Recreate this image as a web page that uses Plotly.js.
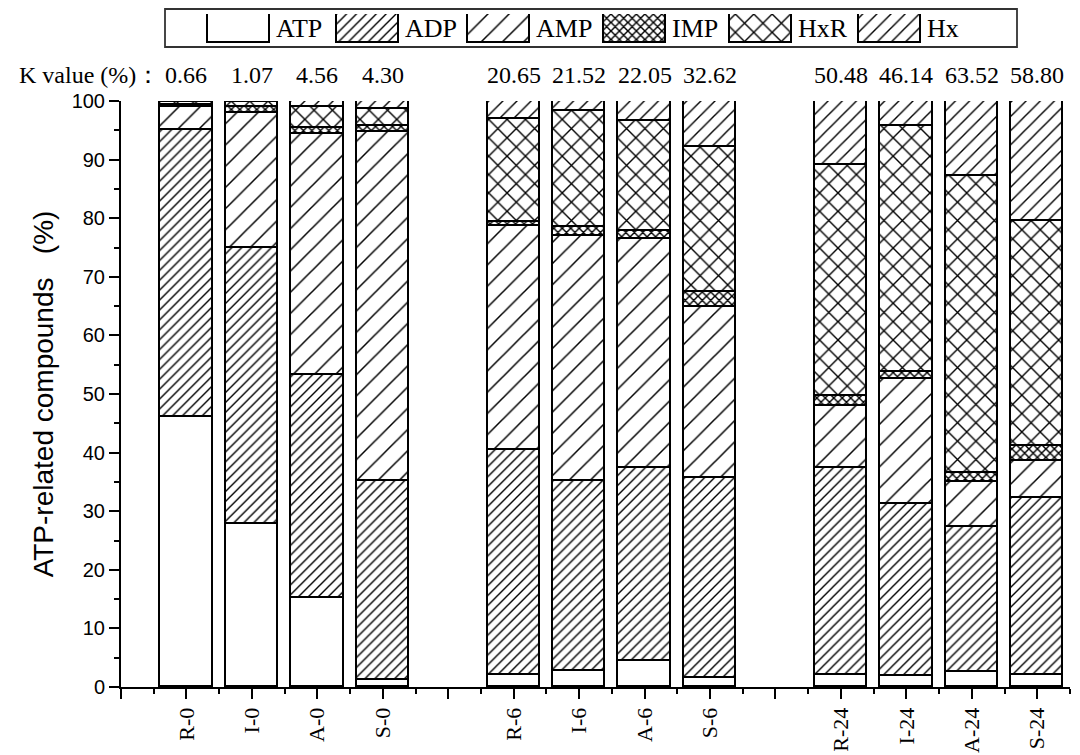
<!DOCTYPE html>
<html>
<head>
<meta charset="utf-8">
<script src="https://cdn.plot.ly/plotly-3.0.1.min.js"></script>
<style>html,body{margin:0;padding:0;background:#fff;}#chart{width:1080px;height:755px;}</style>
</head>
<body>
<div id="chart"></div>
<script>
// ---- data ----
const categories = ['R-0','I-0','A-0','S-0','R-6','I-6','A-6','S-6','R-24','I-24','A-24','S-24'];
const ATP = [46.0, 27.9, 15.2, 1.2, 2.1, 2.7, 4.4, 1.5, 2.1, 1.8, 2.5, 2.1];
const ADP = [49.0, 47.1, 38.1, 34.0, 38.4, 32.5, 33.0, 34.2, 35.2, 29.5, 24.8, 30.2];
const AMP = [4.0, 22.9, 41.1, 59.5, 38.2, 41.8, 39.1, 29.1, 10.7, 21.2, 7.6, 6.3];
const IMP = [0.34, 1.0, 1.0, 1.0, 0.7, 1.5, 1.4, 2.6, 1.6, 1.3, 1.7, 2.5];
const HxR = [0.46, 0.9, 3.5, 3.0, 17.6, 19.8, 18.7, 24.7, 39.5, 41.9, 50.6, 38.4];
const Hx  = [0.2, 0.2, 1.1, 1.3, 3.0, 1.7, 3.4, 7.9, 10.9, 4.3, 12.8, 20.5];
const kValues = ['0.66','1.07','4.56','4.30','20.65','21.52','22.05','32.62','50.48','46.14','63.52','58.80'];
const seriesNames = ['ATP','ADP','AMP','IMP','HxR','Hx'];
const seriesData = [ATP, ADP, AMP, IMP, HxR, Hx];

// ---- layout helpers ----
const W = 1080, H = 755, B = 68;
const PH = H - B; // plot height with t=0
const px = x => x / W;
const py = y => (PH - y) / PH;

// group positions: 4 bars per group, one empty slot between groups
const xpos = categories.map((c, i) => i + 1 + Math.floor(i / 4));

const patterns = {
  ATP: {shape: ''},
  ADP: {shape: '/', size: 7, solidity: 0.2},
  AMP: {shape: '/', size: 15, solidity: 0.1},
  IMP: {shape: 'x', size: 6, solidity: 0.42},
  HxR: {shape: 'x', size: 13, solidity: 0.2},
  Hx:  {shape: '/', size: 10, solidity: 0.14}
};
function markerFor(name) {
  const p = patterns[name];
  const m = {color: '#ffffff', line: {color: '#000', width: 1.6}};
  if (p.shape) {
    m.pattern = {shape: p.shape, size: p.size, solidity: p.solidity, fgcolor: '#000', bgcolor: '#ffffff', fillmode: 'replace'};
  }
  return m;
}

const traces = seriesNames.map((name, s) => ({
  type: 'bar',
  name: name,
  x: xpos,
  y: seriesData[s],
  width: 0.8,
  marker: markerFor(name),
  showlegend: false,
  customdata: categories,
  textposition: 'none',
  hovertemplate: '%{customdata}: %{y}<extra>' + name + '</extra>'
}));

// custom legend swatches (wide rectangles like the original)
const swatchLeft = [208, 337, 468, 604, 730, 859];
const swatchW = 62;
seriesNames.forEach((name, s) => {
  traces.push({
    type: 'bar',
    x: [swatchLeft[s] + swatchW / 2],
    y: [1],
    width: swatchW,
    xaxis: 'x2', yaxis: 'y2',
    marker: markerFor(name),
    showlegend: false,
    textposition: 'none',
    hoverinfo: 'skip'
  });
});

const serif = '"Liberation Serif", "Times New Roman", serif';
const sans = '"Liberation Sans", Arial, sans-serif';

const annotations = [];
annotations.push({
  xref: 'paper', yref: 'paper', x: px(162), y: py(75), xanchor: 'right', yanchor: 'middle',
  text: 'K value (%)：', showarrow: false, font: {family: serif, size: 24, color: '#000'}
});
kValues.forEach((k, i) => {
  annotations.push({
    xref: 'x', yref: 'paper', x: xpos[i], y: py(75), xanchor: 'center', yanchor: 'middle',
    text: k, showarrow: false, font: {family: serif, size: 24, color: '#000'}
  });
});
seriesNames.forEach((name, s) => {
  annotations.push({
    xref: 'paper', yref: 'paper', x: px(swatchLeft[s] + swatchW + 4), y: py(29), xanchor: 'left', yanchor: 'middle',
    text: name, showarrow: false, font: {family: serif, size: 26, color: '#000'}
  });
});

const majorX = [];
const majorXText = [];
for (let v = 0; v <= 14; v++) {
  majorX.push(v);
  const idx = xpos.indexOf(v);
  majorXText.push(idx >= 0 ? categories[idx] : '');
}
const minorX = [];
for (let v = 0.5; v <= 14.5; v += 1) minorX.push(v);

const layout = {
  width: W, height: H,
  margin: {l: 0, r: 0, t: 0, b: B, pad: 0},
  paper_bgcolor: '#fff', plot_bgcolor: 'rgba(0,0,0,0)',
  barmode: 'stack',
  showlegend: false,
  xaxis: {
    domain: [px(121), px(1070)],
    range: [0, 14.5],
    tickmode: 'array', tickvals: majorX, ticktext: majorXText,
    tickangle: -90,
    ticks: 'outside', ticklen: 10, tickwidth: 1.8, tickcolor: '#000',
    minor: {tickmode: 'array', tickvals: minorX, ticks: 'outside', ticklen: 5, tickwidth: 1.8, tickcolor: '#000'},
    showline: true, linecolor: '#000', linewidth: 2,
    showgrid: false, zeroline: false,
    tickfont: {family: serif, size: 22, color: '#000'},
    anchor: 'y', fixedrange: true
  },
  yaxis: {
    domain: [0, py(101)],
    range: [0, 100],
    tickmode: 'linear', tick0: 0, dtick: 10,
    ticks: 'outside', ticklen: 10, tickwidth: 1.8, tickcolor: '#000',
    minor: {dtick: 5, ticks: 'outside', ticklen: 5, tickwidth: 1.8, tickcolor: '#000'},
    showline: true, linecolor: '#000', linewidth: 2,
    showgrid: false, zeroline: false,
    tickfont: {family: sans, size: 20, color: '#000'},
    title: {text: 'ATP-related compounds &nbsp;&nbsp;(%)', font: {family: sans, size: 28, color: '#000'}, standoff: 10},
    anchor: 'x', fixedrange: true
  },
  xaxis2: {domain: [0, 1], range: [0, W], visible: false, anchor: 'y2', fixedrange: true},
  yaxis2: {domain: [py(43), py(14)], range: [0, 1], visible: false, anchor: 'x2', fixedrange: true},
  shapes: [{
    type: 'rect', xref: 'paper', yref: 'paper',
    x0: px(165), x1: px(1017), y0: py(47), y1: py(9),
    line: {color: '#333', width: 1.8}, fillcolor: 'rgba(0,0,0,0)'
  }],
  annotations: annotations,
  bargap: 0
};

Plotly.newPlot('chart', traces, layout, {displayModeBar: false});
</script>
</body>
</html>
